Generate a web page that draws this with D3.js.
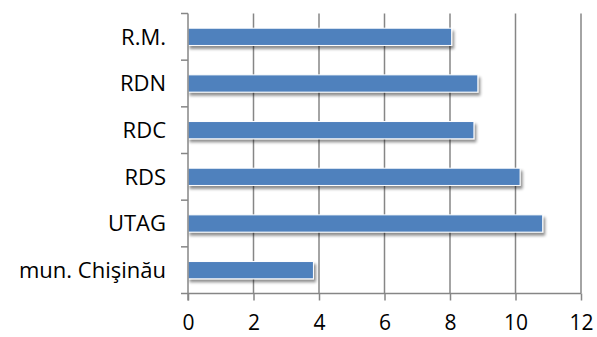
<!DOCTYPE html>
<html><head><meta charset="utf-8">
<script src="https://cdn.jsdelivr.net/npm/d3@7"></script>
<style>body{margin:0;background:#fff;} text{font-family:"Open Sans",sans-serif;fill:#000;}</style>
</head><body><svg id="c" width="597" height="337"></svg>
<script>
const categories = ["R.M.", "RDN", "RDC", "RDS", "UTAG", "mun. Chişinău"];
const values = [8.05, 8.85, 8.73, 10.14, 10.83, 3.83];
const xTicks = [0, 2, 4, 6, 8, 10, 12];

const svg = d3.select("#c");
const m = {left: 188, right: 16, top: 13.5, bottom: 43.5};
const W = 597, H = 337;
const x = d3.scaleLinear().domain([0, 12]).range([m.left, W - m.right]);
const y = d3.scaleBand().domain(categories).range([m.top, H - m.bottom]).paddingInner(0.63).paddingOuter(0.315);
const yb = d3.scaleBand().domain(categories).range([m.top, H - m.bottom]);

const defs = svg.append("defs");
const f = defs.append("filter").attr("id", "sh").attr("x", "-5%").attr("y", "-40%").attr("width", "115%").attr("height", "200%");
f.append("feGaussianBlur").attr("in", "SourceAlpha").attr("stdDeviation", 1.5).attr("result", "b");
f.append("feOffset").attr("in", "b").attr("dx", 2).attr("dy", 2.5).attr("result", "o");
f.append("feComponentTransfer").attr("in", "o").attr("result", "o2").append("feFuncA").attr("type", "linear").attr("slope", 0.45);
const mg = f.append("feMerge");
mg.append("feMergeNode").attr("in", "o2");
mg.append("feMergeNode").attr("in", "SourceGraphic");

// gridlines
svg.append("g").selectAll("line").data(xTicks.slice(1)).join("line")
  .attr("x1", d => x(d)).attr("x2", d => x(d))
  .attr("y1", m.top).attr("y2", H - m.bottom)
  .attr("stroke", "#868686").attr("stroke-width", 1.5);

// bars
svg.append("g").selectAll("rect").data(categories).join("rect")
  .attr("x", x(0)).attr("y", d => y(d))
  .attr("width", (d, i) => x(values[i]) - x(0)).attr("height", y.bandwidth())
  .attr("fill", "#4F81BD").attr("stroke", "#fff").attr("stroke-width", 1)
  .attr("filter", "url(#sh)");

// x axis
const xa = svg.append("g").attr("transform", `translate(0,${H - m.bottom})`)
  .call(d3.axisBottom(x).tickValues(xTicks).tickSize(7).tickPadding(15).tickSizeOuter(0));
xa.select(".domain").remove();
xa.append("line").attr("x1", m.left - 7).attr("x2", W - m.right).attr("stroke", "#868686").attr("stroke-width", 1.5);
xa.selectAll(".tick line").attr("stroke", "#868686").attr("stroke-width", 1.5);
xa.selectAll(".tick text").style("font-size", "21px").attr("dy", "0.71em");

// y axis
const ya = svg.append("g").attr("transform", `translate(${m.left},0)`);
ya.append("line").attr("y1", m.top).attr("y2", H - m.bottom + 7).attr("stroke", "#868686").attr("stroke-width", 1.5);
const bounds = categories.map(c => yb(c)).concat([H - m.bottom]);
ya.selectAll("line.t").data(bounds.slice(0, -1)).join("line").attr("class", "t")
  .attr("x1", -7).attr("x2", 0).attr("y1", d => d).attr("y2", d => d)
  .attr("stroke", "#868686").attr("stroke-width", 1.5);
ya.selectAll("text").data(categories).join("text")
  .attr("x", -22).attr("y", d => yb(d) + yb.bandwidth() / 2)
  .attr("dy", "0.35em").attr("text-anchor", "end").style("font-size", "22px").text(d => d);
</script></body></html>
